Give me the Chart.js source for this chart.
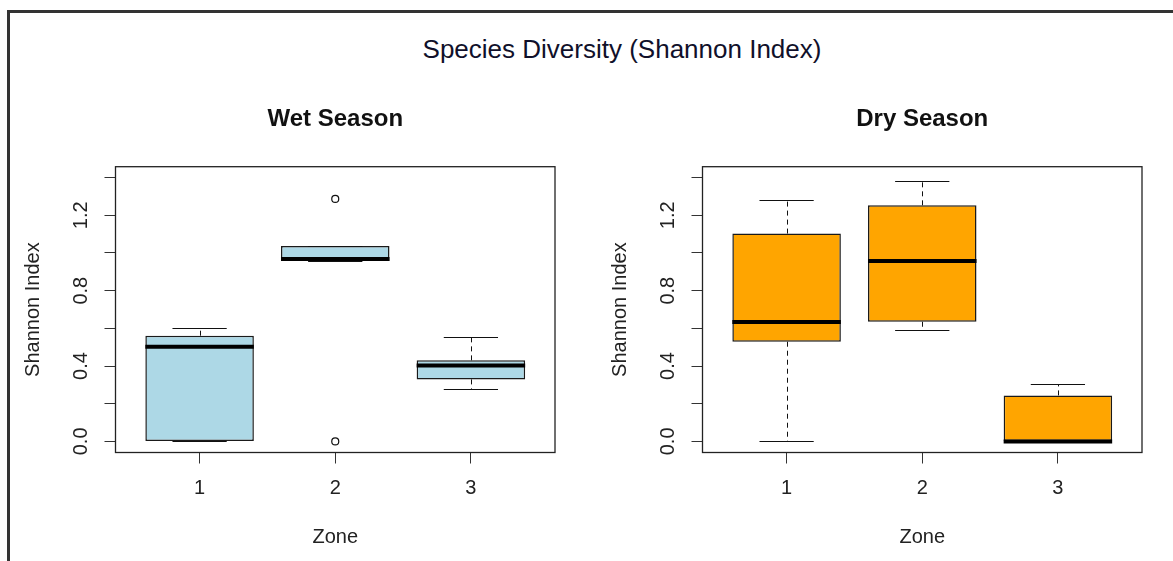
<!DOCTYPE html>
<html>
<head>
<meta charset="utf-8">
<title>Species Diversity (Shannon Index)</title>
<script src="https://cdn.jsdelivr.net/npm/chart.js@4.4.1/dist/chart.umd.min.js"></script>
<style>
  html, body { margin: 0; padding: 0; background: #fff; }
  body { width: 1173px; height: 561px; position: relative; overflow: hidden; font-family: 'Liberation Sans', Arial, sans-serif; }
  #frameTop { position: absolute; left: 7px; top: 10px; width: 1166px; height: 3px; background: #333; }
  #frameLeft { position: absolute; left: 7px; top: 10px; width: 3px; height: 551px; background: #333; }
  #mainTitle { position: absolute; left: 622px; top: 34px; transform: translateX(-50%); white-space: nowrap;
               font-size: 26px; line-height: 30px; color: #10102a; }
  canvas { position: absolute; top: 0; }
  #wetChart { left: 0; }
  #dryChart { left: 587px; }
</style>
</head>
<body>
<div id="frameTop"></div>
<div id="frameLeft"></div>
<div id="mainTitle">Species Diversity (Shannon Index)</div>
<canvas id="wetChart" width="587" height="561"></canvas>
<canvas id="dryChart" width="586" height="561"></canvas>

<script>
// Zones on the x axis and y tick marks
const zones = [1, 2, 3];
const yTicks = [0, 0.2, 0.4, 0.6, 0.8, 1.0, 1.2, 1.4];
const yTickLabels = ['0.0', '', '0.4', '', '0.8', '', '1.2', ''];

// Wet season boxplot stats per zone
const wetMin = [0.00, 0.957, 0.278];
const wetQ1 = [0.00, 0.957, 0.329];
const wetMedian = [0.502, 0.968, 0.403];
const wetQ3 = [0.561, 1.037, 0.430];
const wetMax = [0.600, 1.037, 0.554];
const wetOutlierZone = [2, 2];
const wetOutlierValue = [1.287, 0.00];

// Dry season boxplot stats per zone
const dryMin = [0.00, 0.590, 0.00];
const dryQ1 = [0.529, 0.635, 0.00];
const dryMedian = [0.634, 0.958, 0.00];
const dryQ3 = [1.103, 1.253, 0.244];
const dryMax = [1.283, 1.382, 0.303];
const dryOutlierZone = [];
const dryOutlierValue = [];

Chart.defaults.font.family = "'Liberation Sans', Arial, sans-serif";
Chart.defaults.color = '#222';

// Whiskers, staples, medians and the plot box, drawn through the chart scales
function boxParts(stats) {
  return {
    id: 'boxParts',
    afterDatasetsDraw(chart) {
      const { ctx, scales: { x, y } } = chart;
      ctx.save();
      ctx.strokeStyle = '#111';
      zones.forEach((z, i) => {
        const cx = Math.round(x.getPixelForValue(z)) + 0.5;
        // dashed whiskers
        ctx.lineWidth = 1;
        ctx.setLineDash([5, 4]);
        ctx.beginPath();
        ctx.moveTo(cx, y.getPixelForValue(stats.q3[i]));
        ctx.lineTo(cx, y.getPixelForValue(stats.max[i]));
        ctx.moveTo(cx, y.getPixelForValue(stats.q1[i]));
        ctx.lineTo(cx, y.getPixelForValue(stats.min[i]));
        ctx.stroke();
        ctx.setLineDash([]);
        // staples
        const sL = x.getPixelForValue(z - 0.2), sR = x.getPixelForValue(z + 0.2);
        ctx.beginPath();
        [stats.max[i], stats.min[i]].forEach(v => {
          const py = Math.round(y.getPixelForValue(v)) + 0.5;
          ctx.moveTo(sL, py);
          ctx.lineTo(sR, py);
        });
        ctx.stroke();
        // median
        ctx.lineWidth = 4;
        ctx.strokeStyle = '#000';
        ctx.beginPath();
        const my = y.getPixelForValue(stats.median[i]);
        ctx.moveTo(x.getPixelForValue(z - 0.4), my);
        ctx.lineTo(x.getPixelForValue(z + 0.4), my);
        ctx.stroke();
        ctx.strokeStyle = '#111';
      });
      ctx.restore();
    },
    afterDraw(chart) {
      const { ctx, chartArea: a } = chart;
      ctx.save();
      ctx.strokeStyle = '#222';
      ctx.lineWidth = 1.3;
      ctx.strokeRect(a.left, a.top, a.right - a.left, a.bottom - a.top);
      ctx.restore();
    }
  };
}

function makeBoxChart(id, title, fill, stats, outZone, outValue, padRight) {
  const boxes = zones.map((z, i) => ({ x: z, y: [stats.q1[i], stats.q3[i]] }));
  const outliers = outZone.map((z, i) => ({ x: z, y: outValue[i] }));
  return new Chart(document.getElementById(id), {
    type: 'bar',
    data: {
      datasets: [{
        data: boxes,
        backgroundColor: fill,
        borderColor: '#1a1a1a',
        borderWidth: 1.5,
        borderSkipped: false,
        categoryPercentage: 1,
        barPercentage: 0.8
      }, {
        type: 'scatter',
        data: outliers,
        pointRadius: 3.5,
        pointBackgroundColor: '#fff',
        pointBorderColor: '#111',
        pointBorderWidth: 1.2
      }]
    },
    options: {
      responsive: false,
      animation: false,
      devicePixelRatio: 1,
      layout: { padding: { left: 0, right: padRight, top: 0, bottom: 0 } },
      plugins: {
        legend: { display: false },
        tooltip: { enabled: false },
        title: {
          display: true,
          text: title,
          fullSize: false,
          color: '#111',
          font: { size: 24, weight: 'bold' },
          padding: { top: 104.6, bottom: 33.3 }
        }
      },
      scales: {
        x: {
          type: 'linear',
          min: 0.38,
          max: 3.62,
          offset: false,
          bounds: 'data',
          afterBuildTicks: s => { s.ticks = zones.map(v => ({ value: v })); },
          afterFit: s => { s.height = 108.5; },
          border: { display: false },
          grid: { offset: false, drawOnChartArea: false, tickLength: 11, color: '#333' },
          ticks: { autoSkip: false, padding: 13, font: { size: 20 }, callback: v => String(v) },
          title: { display: true, text: 'Zone', font: { size: 20 }, padding: { top: 0, bottom: 11.5 } }
        },
        y: {
          type: 'linear',
          min: -0.059,
          max: 1.458,
          bounds: 'data',
          afterBuildTicks: s => { s.ticks = yTicks.map(v => ({ value: v })); },
          afterFit: s => { s.width = 115.5; },
          border: { display: false },
          grid: { drawOnChartArea: false, tickLength: 11, color: '#333' },
          ticks: {
            autoSkip: false,
            minRotation: 90,
            maxRotation: 90,
            crossAlign: 'center',
            padding: 9,
            font: { size: 20 },
            callback: (v, i) => yTickLabels[i]
          },
          title: { display: true, text: 'Shannon Index', font: { size: 20 }, padding: { top: 21.5, bottom: 0 } }
        }
      }
    },
    plugins: [boxParts(stats)]
  });
}

makeBoxChart('wetChart', 'Wet Season', '#ADD8E6',
  { min: wetMin, q1: wetQ1, median: wetMedian, q3: wetQ3, max: wetMax },
  wetOutlierZone, wetOutlierValue, 32);

makeBoxChart('dryChart', 'Dry Season', '#FFA500',
  { min: dryMin, q1: dryQ1, median: dryMedian, q3: dryQ3, max: dryMax },
  dryOutlierZone, dryOutlierValue, 31);
</script>
</body>
</html>
